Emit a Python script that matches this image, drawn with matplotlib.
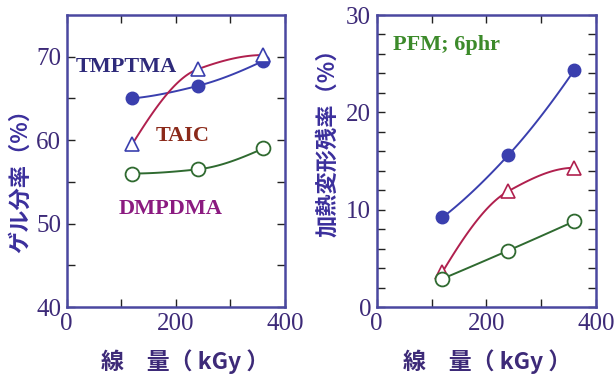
import numpy as np
import matplotlib
matplotlib.use("Agg")
import matplotlib.pyplot as plt

dose = [120, 240, 360]

# Gel fraction (%)
gel_tmptma = [65.0, 66.5, 69.5]
gel_taic = [59.5, 68.5, 70.2]
gel_dmpdma = [56.0, 56.5, 59.0]

# Heat deformation residual rate (%)
hd_tmptma = [9.2, 15.6, 24.3]
hd_taic = [3.6, 11.9, 14.3]
hd_dmpdma = [2.9, 5.8, 8.8]

left_yticks = [40, 50, 60, 70]
right_yticks = [0, 10, 20, 30]
xticks = [0, 200, 400]

FRAME = "#4a48a0"
TICKC = "#3d2a78"
LABC = "#3b2f9c"
BLUE = "#3a3fae"
RED = "#b0204e"
GREEN = "#2f6a30"

fig = plt.figure(figsize=(6.14, 3.75), dpi=100)
axL = fig.add_axes([66.7/614, 1-307/375, (285-66.7)/614, (307-15)/375])
axR = fig.add_axes([376.7/614, 1-307/375, (596-376.7)/614, (307-15)/375])


def pchip_curve(x, y, n=120):
    x = np.asarray(x, float)
    y = np.asarray(y, float)
    h = np.diff(x)
    dl = np.diff(y) / h
    m = len(x)
    d = np.zeros(m)
    for k in range(1, m - 1):
        if dl[k-1] * dl[k] > 0:
            w1 = 2*h[k] + h[k-1]
            w2 = h[k] + 2*h[k-1]
            d[k] = (w1 + w2) / (w1/dl[k-1] + w2/dl[k])
    def endslope(h0, h1, d0, d1):
        s = ((2*h0 + h1)*d0 - h0*d1) / (h0 + h1)
        if np.sign(s) != np.sign(d0):
            s = 0.0
        elif np.sign(d0) != np.sign(d1) and abs(s) > abs(3*d0):
            s = 3*d0
        return s
    d[0] = endslope(h[0], h[1], dl[0], dl[1])
    d[-1] = endslope(h[-1], h[-2], dl[-1], dl[-2])
    xs = np.linspace(x[0], x[-1], n)
    idx = np.clip(np.searchsorted(x, xs) - 1, 0, m - 2)
    t = (xs - x[idx]) / h[idx]
    h00 = 2*t**3 - 3*t**2 + 1
    h10 = t**3 - 2*t**2 + t
    h01 = -2*t**3 + 3*t**2
    h11 = t**3 - t**2
    ys = h00*y[idx] + h10*h[idx]*d[idx] + h01*y[idx+1] + h11*h[idx]*d[idx+1]
    return xs, ys


def smooth(ax, x, y, color, lw=1.4):
    xs, ys = pchip_curve(x, y)
    ax.plot(xs, ys, color=color, lw=lw, zorder=2)


CJK = ["Noto Sans CJK JP", "DejaVu Sans"]


def style(ax, ylim, yticks, yminor, ylabel, xl_x, yl_x, yl_y):
    ax.set_xlim(0, 400)
    ax.set_ylim(*ylim)
    ax.set_xticks(xticks)
    ax.set_xticks([100, 300], minor=True)
    ax.set_yticks(yticks)
    ax.set_yticks(yminor, minor=True)
    for s in ax.spines.values():
        s.set_color(FRAME)
        s.set_linewidth(1.8)
    ax.tick_params(which="both", direction="in", top=True, right=True,
                   color="#222222", width=1.0)
    ax.tick_params(which="major", length=6, labelsize=18, labelcolor=TICKC, pad=4)
    ax.tick_params(which="minor", length=6)
    for lab in ax.get_xticklabels() + ax.get_yticklabels():
        lab.set_fontfamily("Liberation Serif")
    ax.set_xlabel("線　量（ kGy ）", fontsize=16.5, fontweight="bold", color=TICKC,
                  family=CJK, va="center")
    ax.xaxis.set_label_coords(xl_x, -0.188)
    ax.set_ylabel(ylabel, fontsize=16, fontweight="bold", color=LABC,
                  family=CJK, va="center")
    ax.yaxis.set_label_coords(yl_x, yl_y)


ms = 9
# Left panel
smooth(axL, dose, gel_tmptma, BLUE)
smooth(axL, dose, gel_taic, RED)
smooth(axL, dose, gel_dmpdma, GREEN)
axL.plot(dose, gel_tmptma, "o", ms=ms, mfc=BLUE, mec=BLUE, zorder=3)
axL.plot(dose, gel_taic, "^", ms=ms+1, mfc="white", mec=BLUE, mew=1.2, zorder=3)
axL.plot(dose, gel_dmpdma, "o", ms=ms+1, mfc="white", mec=GREEN, mew=1.3, zorder=3)
axL.text(109, 68.8, "TMPTMA", fontsize=16, fontweight="bold", color="#2e2a7a",
         family="Liberation Serif", ha="center", va="center")
axL.text(212, 60.5, "TAIC", fontsize=16, fontweight="bold", color="#8b2a1a",
         family="Liberation Serif", ha="center", va="center")
axL.text(190, 51.7, "DMPDMA", fontsize=16, fontweight="bold", color="#8b1a80",
         family="Liberation Serif", ha="center", va="center")
style(axL, (40, 75), left_yticks, [45, 55, 65], "ゲル分率（%）",
      0.542, -0.21, 0.45)

# Right panel
smooth(axR, dose, hd_tmptma, BLUE)
smooth(axR, dose, hd_taic, RED)
smooth(axR, dose, hd_dmpdma, GREEN)
axR.plot(dose, hd_tmptma, "o", ms=ms, mfc=BLUE, mec=BLUE, zorder=3)
axR.plot(dose, hd_taic, "^", ms=ms+1, mfc="white", mec=RED, mew=1.2, zorder=3)
axR.plot(dose, hd_dmpdma, "o", ms=ms+1, mfc="white", mec=GREEN, mew=1.3, zorder=3)
axR.text(128, 26.9, "PFM; 6phr", fontsize=16, fontweight="bold", color="#3c8a2a",
         family="Liberation Serif", ha="center", va="center")
style(axR, (0, 30), right_yticks, [2, 4, 6, 8, 12, 14, 16, 18, 22, 24, 26, 28],
      "加熱変形残率（%）", 0.503, -0.225, 0.58)

fig.savefig("out.png", dpi=100)
